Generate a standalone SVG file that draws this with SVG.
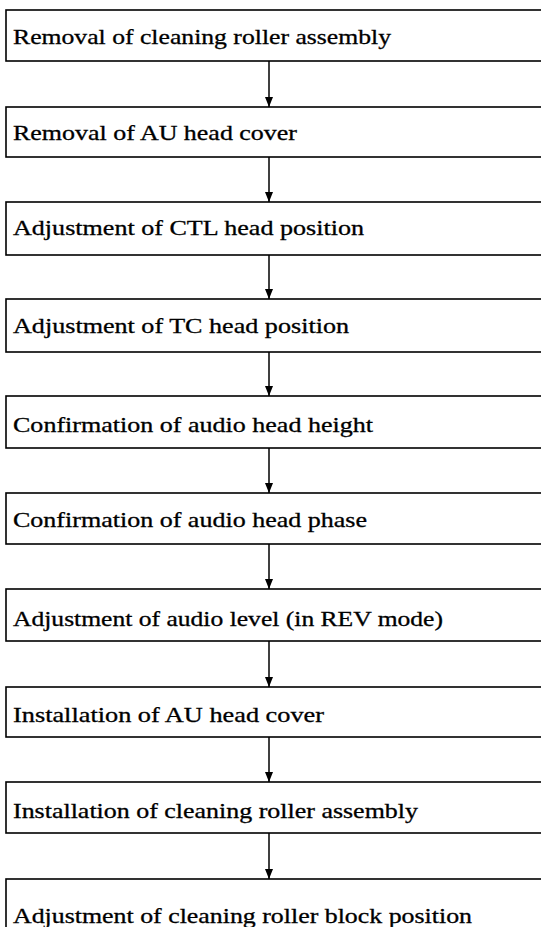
<svg xmlns="http://www.w3.org/2000/svg" width="541" height="927" viewBox="0 0 541 927">
<style>
.box{fill:#fff;stroke:#000;stroke-width:1.6}
.lbl{font-family:"Liberation Serif","Times New Roman",serif;font-size:21px;fill:#000;stroke:#000;stroke-width:0.3}
.conn{stroke:#000;stroke-width:1.5;fill:none}
</style>
<defs>
<marker id="ah" viewBox="0 0 10 8" refX="10" refY="4" markerWidth="10" markerHeight="8" markerUnits="userSpaceOnUse" orient="auto">
<path d="M0,0 L10,4 L0,8 Z" fill="#000"/>
</marker>
</defs>
<rect width="541" height="927" fill="#fff"/>
<g id="n1"><rect class="box" x="6" y="10" width="560" height="51"/><text class="lbl" x="13" y="44" textLength="378" lengthAdjust="spacingAndGlyphs">Removal of cleaning roller assembly</text></g>
<g id="n2"><rect class="box" x="6" y="107" width="560" height="50"/><text class="lbl" x="13" y="140" textLength="284" lengthAdjust="spacingAndGlyphs">Removal of AU head cover</text></g>
<g id="n3"><rect class="box" x="6" y="202" width="560" height="53"/><text class="lbl" x="13" y="235" textLength="351" lengthAdjust="spacingAndGlyphs">Adjustment of CTL head position</text></g>
<g id="n4"><rect class="box" x="6" y="299" width="560" height="53"/><text class="lbl" x="13" y="333" textLength="336" lengthAdjust="spacingAndGlyphs">Adjustment of TC head position</text></g>
<g id="n5"><rect class="box" x="6" y="396" width="560" height="52"/><text class="lbl" x="13" y="432" textLength="360" lengthAdjust="spacingAndGlyphs">Confirmation of audio head height</text></g>
<g id="n6"><rect class="box" x="6" y="493" width="560" height="51"/><text class="lbl" x="13" y="527" textLength="354" lengthAdjust="spacingAndGlyphs">Confirmation of audio head phase</text></g>
<g id="n7"><rect class="box" x="6" y="589" width="560" height="52"/><text class="lbl" x="13" y="626" textLength="430" lengthAdjust="spacingAndGlyphs">Adjustment of audio level (in REV mode)</text></g>
<g id="n8"><rect class="box" x="6" y="687" width="560" height="50"/><text class="lbl" x="13" y="722" textLength="311" lengthAdjust="spacingAndGlyphs">Installation of AU head cover</text></g>
<g id="n9"><rect class="box" x="6" y="782" width="560" height="51"/><text class="lbl" x="13" y="818" textLength="405" lengthAdjust="spacingAndGlyphs">Installation of cleaning roller assembly</text></g>
<g id="n10"><rect class="box" x="6" y="879" width="560" height="70"/><text class="lbl" x="13" y="923" textLength="459" lengthAdjust="spacingAndGlyphs">Adjustment of cleaning roller block position</text></g>
<g id="connectors">
<line class="conn" x1="269" y1="61" x2="269" y2="107" marker-end="url(#ah)"/>
<line class="conn" x1="269" y1="157" x2="269" y2="202" marker-end="url(#ah)"/>
<line class="conn" x1="269" y1="255" x2="269" y2="299" marker-end="url(#ah)"/>
<line class="conn" x1="269" y1="352" x2="269" y2="396" marker-end="url(#ah)"/>
<line class="conn" x1="269" y1="448" x2="269" y2="493" marker-end="url(#ah)"/>
<line class="conn" x1="269" y1="544" x2="269" y2="589" marker-end="url(#ah)"/>
<line class="conn" x1="269" y1="641" x2="269" y2="687" marker-end="url(#ah)"/>
<line class="conn" x1="269" y1="737" x2="269" y2="782" marker-end="url(#ah)"/>
<line class="conn" x1="269" y1="833" x2="269" y2="879" marker-end="url(#ah)"/>
</g>
</svg>
